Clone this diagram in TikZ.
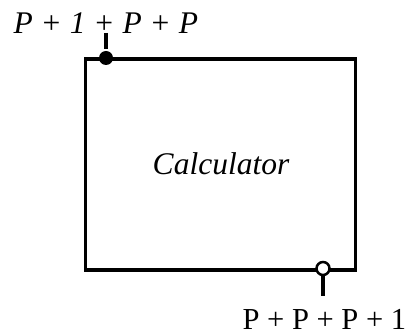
\documentclass[tikz,border=0pt]{standalone}
\usepackage{fontspec}
\setmainfont{Liberation Serif}
\begin{document}
\begin{tikzpicture}[x=1pt,y=-1pt,line width=3.2pt,
  lbl/.style={inner sep=0pt, font=\fontsize{30.5}{37}\selectfont},
  port/.style={circle, inner sep=0pt, minimum size=14pt}]
\useasboundingbox (0,0) rectangle (412,336);
\node[draw, inner sep=0pt, minimum width=270pt, minimum height=211pt, anchor=north west] (box) at (84,57.5) {};
\node[lbl, anchor=base, font=\fontsize{31.5}{37}\selectfont\itshape] (name) at (221,175) {Calculator};
\node[port, fill=black] (in) at (106,58) {};
\coordinate (inTop) at (106,33);
\draw (inTop) -- (in);
\node[port, draw, fill=white, line width=2.5pt, minimum size=13pt] (out) at (323,268.5) {};
\coordinate (outBot) at (323,296);
\draw (out) -- (outBot);
\node[lbl, anchor=base west, font=\fontsize{31.5}{37}\selectfont\itshape] (toplabel) at (12,34) {P + 1 + P + P};
\node[lbl, anchor=base west] (botlabel) at (241,330) {P + P + P + 1};
\end{tikzpicture}
\end{document}
